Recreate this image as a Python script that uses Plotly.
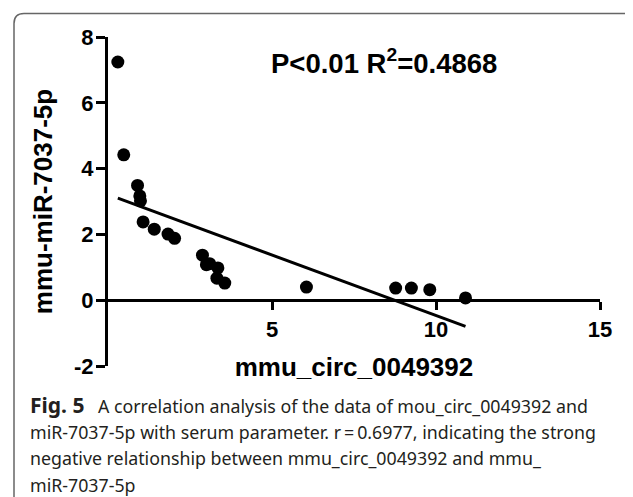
import numpy as np
import plotly.graph_objects as go

# ---- data ----
circ_x = [0.30, 0.48, 0.90, 0.97, 0.99, 1.07, 1.41, 1.83, 2.03, 2.88,
          3.00, 3.10, 3.35, 3.32, 3.56, 6.05, 8.77, 9.25, 9.81, 10.90]
mir_y = [7.24, 4.42, 3.49, 3.17, 3.02, 2.38, 2.16, 2.01, 1.88, 1.37,
         1.08, 1.11, 0.98, 0.67, 0.52, 0.40, 0.37, 0.37, 0.32, 0.07]

x_ticks = [5, 10, 15]
x_tick_text = ["5", "10", "15"]
y_ticks = [-2, 0, 2, 4, 6, 8]
y_tick_text = ["-2", "0", "2", "4", "6", "8"]

stat_text = "P<0.01 R<sup>2</sup>=0.4868"
x_title = "mmu_circ_0049392"
y_title = "mmu-miR-7037-5p"
caption_lines = [
    "<span style='font-size:21px'><b>Fig. 5</b></span>\u2002 A correlation analysis of the data of mou_circ_0049392 and",
    "miR-7037-5p with serum parameter. r\u2009=\u20090.6977, indicating the strong",
    "negative relationship between mmu_circ_0049392 and mmu_",
    "miR-7037-5p",
]

# linear regression
slope, intercept = np.polyfit(circ_x, mir_y, 1)
fit_x = [min(circ_x), max(circ_x)]
fit_y = [intercept + slope * v for v in fit_x]

OFF = 8  # page body margin
W, H = 633 - OFF, 497 - OFF
L, R, T, B = 108 - OFF, 33, 37 - OFF, 131
pw, ph = W - L - R, H - T - B


def px(xp):
    return (xp - OFF - L) / pw


def py(yp):
    return (H - B - (yp - OFF)) / ph


fig = go.Figure()
fig.add_trace(go.Scatter(x=fit_x, y=fit_y, mode="lines",
                         line=dict(color="black", width=3),
                         showlegend=False, hoverinfo="skip"))
fig.add_trace(go.Scatter(x=circ_x, y=mir_y, mode="markers",
                         marker=dict(color="black", size=13),
                         cliponaxis=False, showlegend=False))

ARIAL = "Liberation Sans, Arial, sans-serif"
bold = dict(family=ARIAL, size=22, color="black", weight="bold")

fig.update_layout(
    width=W, height=H,
    margin=dict(l=L, r=R, t=T, b=B),
    paper_bgcolor="white", plot_bgcolor="white",
    xaxis=dict(range=[0, 15], tickvals=x_ticks, ticktext=x_tick_text,
               ticks="outside", ticklen=8,
               tickwidth=3, tickcolor="black", showline=True, linewidth=3,
               linecolor="black", showgrid=False, zeroline=False,
               anchor="free", position=0.2, tickfont=bold,
               ticklabelstandoff=0,
               title=dict(text=x_title, standoff=17,
                          font=dict(family=ARIAL, size=26, color="black",
                                    weight="bold"))),
    yaxis=dict(range=[-2, 8], tickvals=y_ticks, ticktext=y_tick_text,
               ticks="outside", ticklen=9,
               tickwidth=3, tickcolor="black", showline=True, linewidth=3,
               linecolor="black", showgrid=False, zeroline=False,
               tickfont=bold, ticklabelstandoff=-2,
               title=dict(text=y_title, standoff=14,
                          font=dict(family=ARIAL, size=26, color="black",
                                    weight="bold"))),
)

fig.add_annotation(x=px(384), y=py(62), xref="paper", yref="paper",
                   text=stat_text, showarrow=False,
                   xanchor="center", yanchor="middle",
                   font=dict(family=ARIAL, size=27.5, color="black",
                             weight="bold"))

cap_y = [405, 432, 458, 485]
for line, yy in zip(caption_lines, cap_y):
    fig.add_annotation(x=px(28), y=py(yy), xref="paper", yref="paper",
                       text=line, showarrow=False, xanchor="left",
                       yanchor="middle", align="left",
                       font=dict(family="Noto Sans, Open Sans, sans-serif",
                                 size=17.8, color="#231f20"))

# rounded frame (top-left and top-right corners)
x0, x1 = px(14), px(638)
yt, yb = py(13.5), py(505)
rx, ry = 10 / pw, 10 / ph
path = (f"M {x0},{yb} L {x0},{yt - ry} Q {x0},{yt} {x0 + rx},{yt} "
        f"L {x1 - rx},{yt} Q {x1},{yt} {x1},{yt - ry} L {x1},{yb}")
fig.add_shape(type="path", path=path, xref="paper", yref="paper",
              line=dict(color="#666666", width=1.5), layer="below")

fig.write_html("out.html")
